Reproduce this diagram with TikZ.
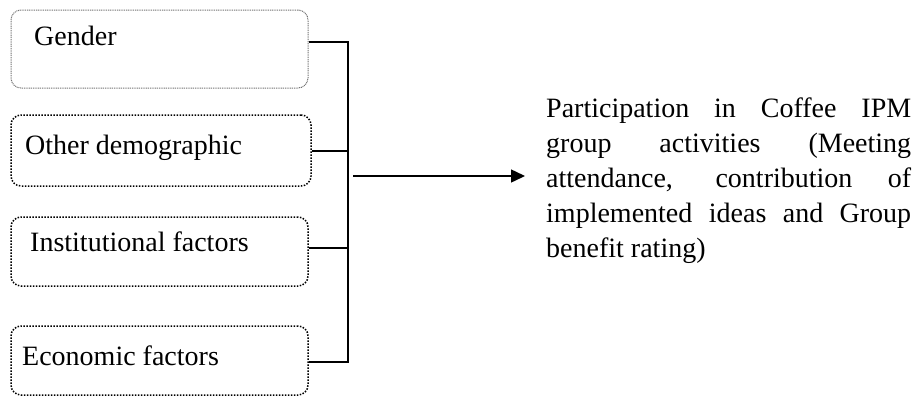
\documentclass[tikz,border=0pt]{standalone}
\usepackage{fontspec}
\setmainfont{Liberation Serif}
\usetikzlibrary{arrows.meta,positioning}

\begin{document}
\begin{tikzpicture}[x=1pt,y=-1pt,
    factor/.style={draw,rounded corners=10pt,line width=1.5pt,dash pattern=on 1.5pt off 1.5pt,inner sep=0pt},
    factorgray/.style={factor,draw=black!55,line width=1pt,dash pattern=on 1pt off 0.8pt},
    factorlabel/.style={anchor=west,inner sep=0pt,text height=0.66em,text depth=0pt,font=\fontsize{28pt}{35pt}\selectfont},
    outcome/.style={anchor=north west,inner sep=0pt,text width=365pt,align=justify,font=\fontsize{28pt}{35pt}\selectfont},
    link/.style={line width=1.8pt}]
  \useasboundingbox (0,0) rectangle (919,397);

  \node[factorgray,minimum width=297pt,minimum height=78pt] (gender) at (159.5,49) {};
  \node[factor,minimum width=300pt,minimum height=71pt] (other) at (161,150.5) {};
  \node[factor,minimum width=297pt,minimum height=69pt] (inst) at (159.5,251.5) {};
  \node[factor,minimum width=297pt,minimum height=69pt] (econ) at (159.5,360.5) {};

  \node[factorlabel] (gendertext) at (34,42) {Gender};
  \node[factorlabel] (othertext) at (25,151) {Other demographic};
  \node[factorlabel] (insttext) at (30,248) {Institutional factors};
  \node[factorlabel] (econtext) at (22,362) {Economic factors};

  \node[outcome] (result) at (546,98) {\tolerance=10000 Participation in Coffee IPM\linebreak group activities (Meeting\linebreak attendance, contribution of\linebreak implemented ideas and Group\linebreak benefit rating)};

  \coordinate (spine) at (348,0);
  \coordinate (hub) at (353,176);

  \draw[link] (gender.east |- gendertext) -- (spine |- gendertext) -- (spine |- econtext) -- (econ.east |- econtext);
  \draw[link] (other.east |- othertext) -- (spine |- othertext);
  \draw[link] (inst.east |- insttext) -- (spine |- insttext);
  \draw[link,line width=1.5pt,-{Triangle[length=14pt,width=13pt]},shorten >=21pt] (hub) -- (hub -| result.west);
\end{tikzpicture}
\end{document}
